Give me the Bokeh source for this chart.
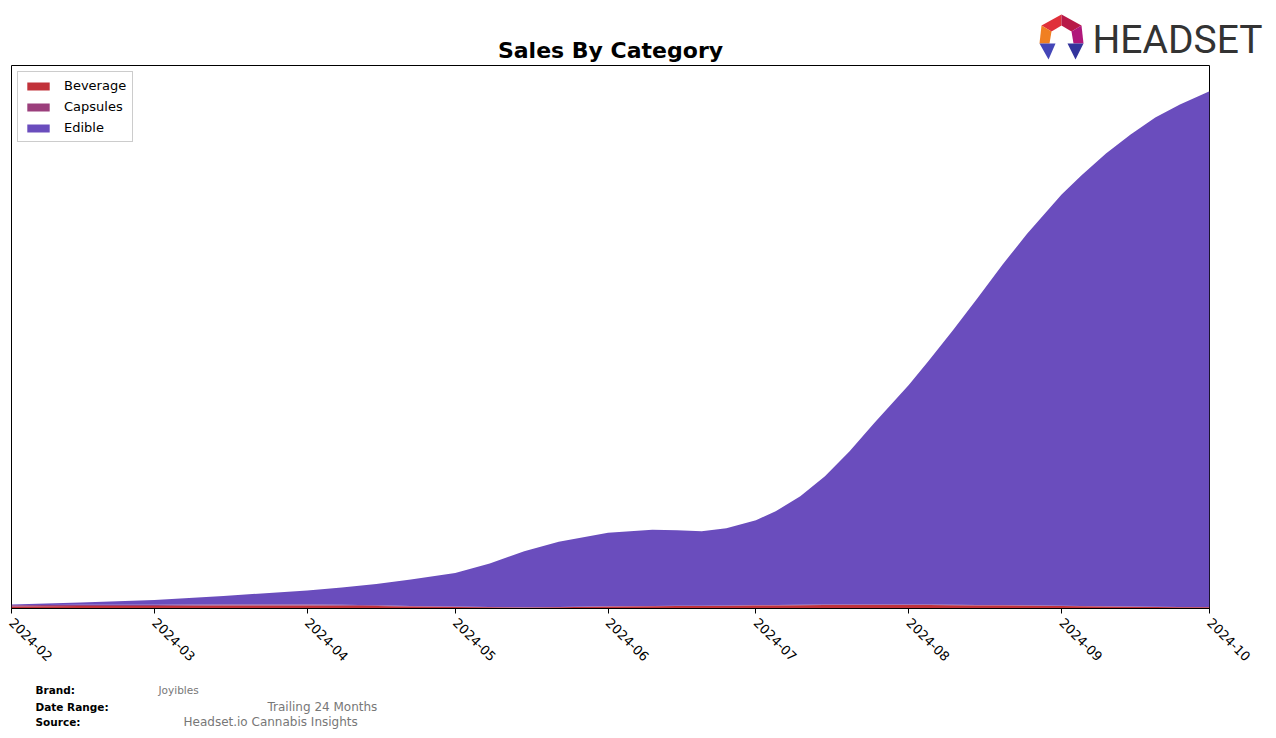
import math
import pandas as pd
from bokeh.plotting import figure
from bokeh.layouts import column
from bokeh.models import ColumnDataSource, Range1d, FixedTicker
from bokeh.core.properties import value
from bokeh.embed import file_html
from bokeh.resources import INLINE

# ---- data (arbitrary sales units) ----
dates = ["2024-02-01", "2024-02-15", "2024-03-01", "2024-03-15", "2024-04-01",
         "2024-04-08", "2024-04-15", "2024-04-22", "2024-05-01", "2024-05-08",
         "2024-05-15", "2024-05-22", "2024-06-01", "2024-06-10", "2024-06-15",
         "2024-06-20", "2024-06-25", "2024-07-01", "2024-07-05", "2024-07-10",
         "2024-07-15", "2024-07-20", "2024-07-25", "2024-08-01", "2024-08-05",
         "2024-08-10", "2024-08-15", "2024-08-20", "2024-08-25", "2024-09-01",
         "2024-09-05", "2024-09-10", "2024-09-15", "2024-09-20", "2024-09-25",
         "2024-10-01"]
beverage = [2.0, 2.5, 2.5, 3.0, 3.0, 2.8, 2.5, 2.0, 1.5, 1.2,
            1.0, 1.2, 2.0, 2.2, 2.4, 2.5, 2.6, 3.0, 3.1, 3.2,
            3.4, 3.5, 3.5, 3.5, 3.4, 3.2, 3.1, 3.0, 2.8, 2.5,
            2.2, 2.0, 1.8, 1.5, 1.3, 1.2]
capsules = [1.2, 1.2, 1.2, 1.0, 1.0, 0.9, 0.8, 0.6, 0.5, 0.3,
            0.3, 0.3, 0.3, 0.3, 0.3, 0.3, 0.3, 0.4, 0.4, 0.5,
            0.5, 0.5, 0.5, 0.5, 0.5, 0.5, 0.5, 0.4, 0.4, 0.3,
            0.3, 0.3, 0.3, 0.3, 0.3, 0.3]
edible = [0.8, 2.3, 4.8, 8.5, 14.0, 17.3, 21.2, 26.4, 33.5, 43.5,
          55.7, 65.0, 73.2, 76.0, 75.3, 74.2, 77.1, 84.6, 93.5, 108.3,
          128.1, 153.0, 181.0, 219.0, 243.1, 274.3, 306.4, 339.6, 370.8, 410.2,
          429.5, 451.7, 470.9, 488.2, 501.4, 514.5]
categories = ["Beverage", "Capsules", "Edible"]
colors = ["#c1323a", "#9b3f7c", "#6a4dbd"]
tick_labels = ["2024-02", "2024-03", "2024-04", "2024-05", "2024-06",
               "2024-07", "2024-08", "2024-09", "2024-10"]

df = pd.DataFrame({"date": pd.to_datetime(dates),
                   "Beverage": beverage, "Capsules": capsules, "Edible": edible})
source = ColumnDataSource(df)
totals = [b + c + e for b, c, e in zip(beverage, capsules, edible)]
tick_ms = [int(pd.Timestamp(t + "-01").value // 10**6) for t in tick_labels]

PW = 1276
TOP_H, MAIN_H, FOOT_H = 63, 615, 60


def no_align(f):
    try:
        f.frame_align = False
    except Exception:
        pass


def helper(height, y0):
    f = figure(width=PW, height=height, output_backend="svg", toolbar_location=None,
               x_axis_location=None, y_axis_location=None,
               x_range=Range1d(0, PW), y_range=Range1d(y0 + height, y0),
               min_border=0, min_border_left=0, min_border_right=0,
               min_border_top=0, min_border_bottom=0)
    f.grid.visible = False
    f.outline_line_color = None
    f.background_fill_color = "white"
    f.border_fill_color = "white"
    no_align(f)
    return f


# ---- header: title + logo ----
top = helper(TOP_H, 0)
top.text(x=[610], y=[50], text=["Sales By Category"], text_font=value("DejaVu Sans"),
         text_font_size="22px", text_font_style="bold", text_color="black",
         text_align="center", text_baseline="middle")
logo_polys = [
    ([1041, 1061, 1061, 1051], [25, 14, 25, 31], "#e0303a"),
    ([1061, 1081, 1071, 1061], [14, 25, 31, 25], "#b81948"),
    ([1081, 1083, 1073, 1071], [25, 43, 43, 31], "#b0177a"),
    ([1041, 1051, 1049, 1039], [25, 31, 43, 43], "#f07f22"),
    ([1039, 1055, 1048], [43, 43, 59], "#4446b8"),
    ([1067, 1083, 1075], [43, 43, 59], "#33349c"),
]
top.patches(xs=[a for a, _, _ in logo_polys], ys=[b for _, b, _ in logo_polys],
            fill_color=[c for _, _, c in logo_polys], line_color=None)
top.text(x=[1092], y=[39], text=["HEADSET"], text_font=value("Roboto"),
         text_font_size="39px", text_color="#333333",
         text_align="left", text_baseline="middle")

# ---- main chart ----
p = figure(width=PW, height=MAIN_H, x_axis_type="datetime", output_backend="svg",
           toolbar_location=None, y_axis_location=None,
           x_range=Range1d(tick_ms[0], tick_ms[-1]),
           y_range=Range1d(0, max(totals) * 1.05),
           min_border_left=11, min_border_right=67, min_border_top=2,
           min_border_bottom=70)
no_align(p)
p.grid.visible = False
p.outline_line_color = "black"
p.outline_line_alpha = 1.0
p.outline_line_width = 1
p.background_fill_color = "white"
p.border_fill_color = "white"

p.varea_stack(categories, x="date", color=colors, source=source,
              legend_label=categories)

ax = p.xaxis[0]
ax.ticker = FixedTicker(ticks=tick_ms, minor_ticks=[])
ax.major_label_overrides = {ms: lab for ms, lab in zip(tick_ms, tick_labels)}
ax.major_label_orientation = -math.pi / 4
ax.major_label_text_font = "DejaVu Sans"
ax.major_label_text_font_size = "13px"
ax.major_label_text_color = "black"
ax.major_tick_out = 5
ax.major_tick_in = 0
ax.minor_tick_out = 0
ax.minor_tick_in = 0
ax.axis_line_color = "black"
ax.major_tick_line_color = "black"
ax.major_label_standoff = 7

lg = p.legend[0]
lg.location = "top_left"
lg.margin = 6
lg.padding = 6
lg.spacing = 6
lg.glyph_width = 28
lg.glyph_height = 10
lg.label_standoff = 12
lg.label_text_font = "DejaVu Sans"
lg.label_text_font_size = "13px"
lg.label_text_color = "black"
lg.label_height = 14
lg.border_line_color = "#cccccc"
lg.border_line_alpha = 1.0
lg.background_fill_alpha = 0.8

# ---- footer ----
foot = helper(FOOT_H, TOP_H + MAIN_H)
foot_rows = [
    ("Brand:", 35, 689, "10.5px", "bold", "black"),
    ("Joyibles", 158, 689, "10.5px", "normal", "#777777"),
    ("Date Range:", 35, 706, "10.5px", "bold", "black"),
    ("Trailing 24 Months", 267, 706, "12px", "normal", "#777777"),
    ("Source:", 35, 721, "10.5px", "bold", "black"),
    ("Headset.io Cannabis Insights", 183, 721, "12px", "normal", "#777777"),
]
for t, x, y, size, style, col in foot_rows:
    foot.text(x=[x], y=[y], text=[t], text_font=value("DejaVu Sans"),
              text_font_size=size, text_font_style=style, text_color=col,
              text_align="left", text_baseline="middle")

layout = column(top, p, foot, spacing=0)
open("out.html", "w").write(file_html(layout, INLINE))
